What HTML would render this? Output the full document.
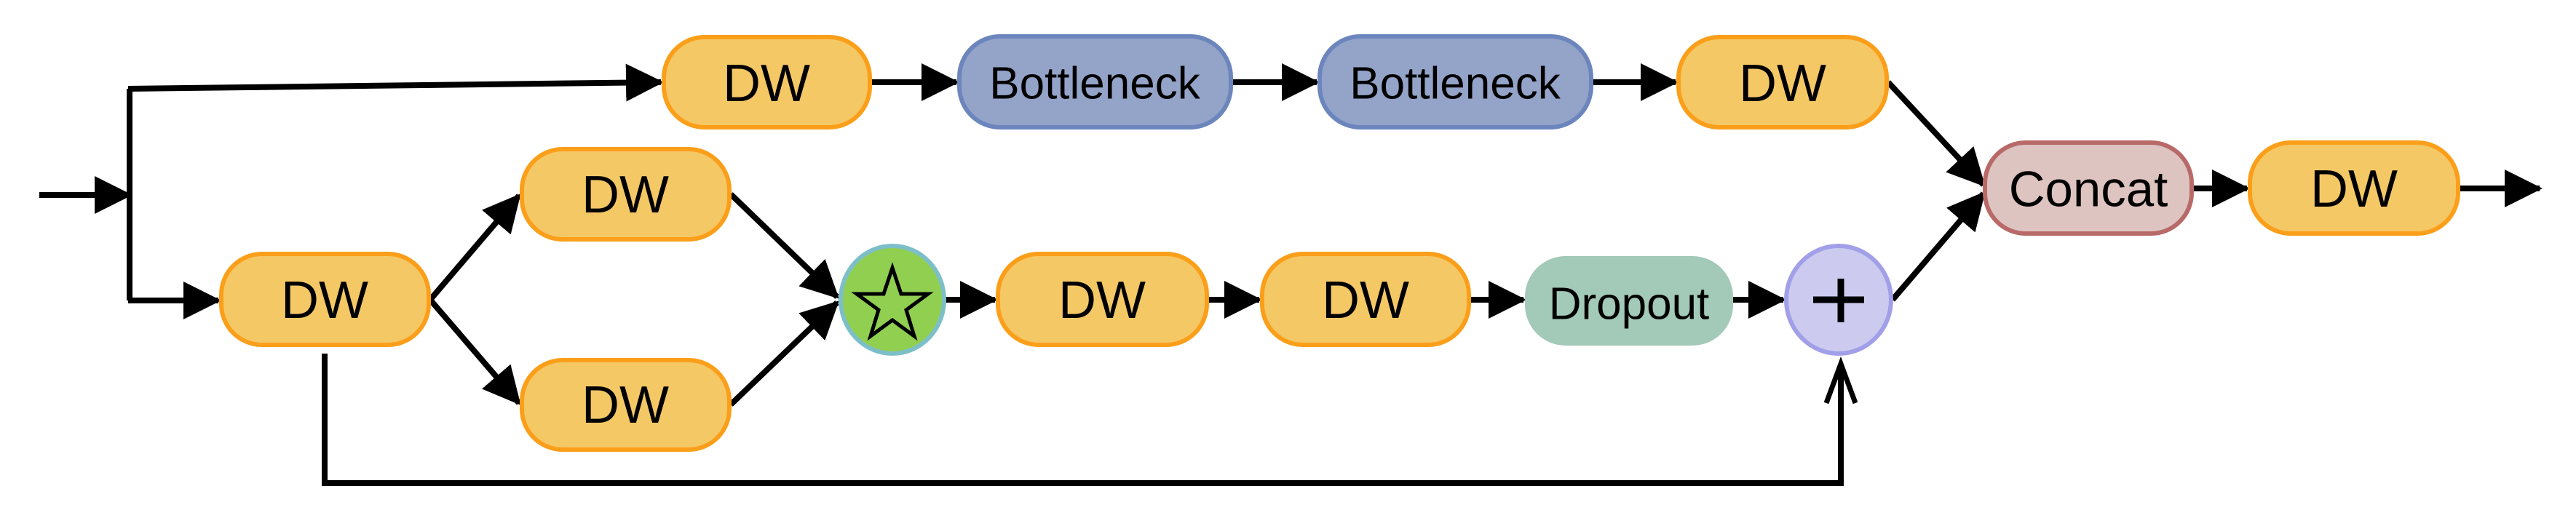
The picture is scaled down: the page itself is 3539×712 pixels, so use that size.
<!DOCTYPE html>
<html><head><meta charset="utf-8"><style>
html,body{margin:0;padding:0;background:#fff;}
svg{display:block;}
text{font-family:"Liberation Sans",Arial,sans-serif;fill:#000;text-anchor:middle;dominant-baseline:central;}
</style></head><body>
<svg width="3539" height="712" viewBox="0 0 3539 712" xmlns="http://www.w3.org/2000/svg">
<defs>
<marker id="ah" markerWidth="6.5" markerHeight="6.5" refX="6" refY="3.25" orient="auto" markerUnits="strokeWidth">
<path d="M0,0 L6.5,3.25 L0,6.5 Z" fill="#000"/>
</marker>
</defs>
<g stroke="#000" stroke-width="8" fill="none">
<line x1="54" y1="268" x2="178" y2="268" marker-end="url(#ah)"/>
<polyline points="178,122 178,413"/>
<line x1="176" y1="122" x2="908" y2="113" marker-end="url(#ah)"/>
<line x1="176" y1="413" x2="300" y2="413" marker-end="url(#ah)"/>
<line x1="591" y1="412" x2="713" y2="269" marker-end="url(#ah)"/>
<line x1="591" y1="412" x2="713" y2="554" marker-end="url(#ah)"/>
<line x1="1004" y1="267" x2="1150" y2="408" marker-end="url(#ah)"/>
<line x1="1004" y1="556" x2="1150" y2="416" marker-end="url(#ah)"/>
<line x1="1299" y1="412" x2="1367" y2="412" marker-end="url(#ah)"/>
<line x1="1660" y1="412" x2="1730" y2="412" marker-end="url(#ah)"/>
<line x1="2020" y1="412" x2="2093" y2="412" marker-end="url(#ah)"/>
<line x1="2381" y1="412" x2="2450" y2="412" marker-end="url(#ah)"/>
<line x1="1197" y1="113" x2="1314" y2="113" marker-end="url(#ah)"/>
<line x1="1693" y1="113" x2="1809" y2="113" marker-end="url(#ah)"/>
<line x1="2188" y1="113" x2="2302" y2="113" marker-end="url(#ah)"/>
<line x1="2594" y1="113" x2="2725" y2="254" marker-end="url(#ah)"/>
<line x1="2600" y1="412" x2="2725" y2="266" marker-end="url(#ah)"/>
<line x1="3013" y1="259" x2="3087" y2="259" marker-end="url(#ah)"/>
<line x1="3379" y1="259" x2="3489" y2="259" marker-end="url(#ah)"/>
<polyline points="446,486 446,664 2529,664 2529,502"/>
<polyline points="2509,554 2529,500 2549,554" stroke-width="7"/>
</g>
<g stroke-width="6">
<rect x="912" y="51" width="283" height="124" rx="56" fill="#f5c866" stroke="#fb9f1a"/>
<rect x="1318" y="50" width="373" height="125" rx="56" fill="#94a3c8" stroke="#6c86bd"/>
<rect x="1813" y="50" width="373" height="125" rx="56" fill="#94a3c8" stroke="#6c86bd"/>
<rect x="2306" y="51" width="286" height="124" rx="56" fill="#f5c866" stroke="#fb9f1a"/>
<rect x="2727" y="196" width="284" height="125" rx="56" fill="#dec4c0" stroke="#b86a68"/>
<rect x="3091" y="196" width="286" height="125" rx="56" fill="#f5c866" stroke="#fb9f1a"/>
<rect x="304" y="349" width="285" height="125" rx="56" fill="#f5c866" stroke="#fb9f1a"/>
<rect x="717" y="205" width="285" height="124" rx="56" fill="#f5c866" stroke="#fb9f1a"/>
<rect x="717" y="495" width="285" height="123" rx="56" fill="#f5c866" stroke="#fb9f1a"/>
<rect x="1371" y="349" width="287" height="125" rx="56" fill="#f5c866" stroke="#fb9f1a"/>
<rect x="1734" y="349" width="284" height="125" rx="56" fill="#f5c866" stroke="#fb9f1a"/>
<rect x="2095" y="352" width="286" height="123" rx="56" fill="#a3c9b8" stroke="none"/>
<ellipse cx="1226" cy="412" rx="71" ry="74" fill="#91cf50" stroke="#7dbfc8"/>
<ellipse cx="2526" cy="412" rx="72" ry="74" fill="#cccbef" stroke="#a19fe8"/>
</g>
<polygon points="1226,368 1238,404 1275,404 1245,426 1256,462 1226,440 1196,462 1207,426 1177,404 1214,404" fill="none" stroke="#000" stroke-width="5" stroke-linejoin="miter"/>
<g stroke="#000" stroke-width="9"><line x1="2491" y1="412" x2="2561" y2="412"/><line x1="2529" y1="383" x2="2529" y2="443"/></g>
<g font-size="72">
<text x="1053" y="115">DW</text>
<text x="2449" y="115">DW</text>
<text x="3234" y="260">DW</text>
<text x="446" y="413">DW</text>
<text x="859" y="268">DW</text>
<text x="859" y="557">DW</text>
<text x="1514" y="413">DW</text>
<text x="1876" y="413">DW</text>
</g>
<g font-size="62">
<text x="1504" y="115">Bottleneck</text>
<text x="1999" y="115">Bottleneck</text>
<text x="2238" y="418">Dropout</text>
</g>
<text x="2869" y="260" font-size="69">Concat</text>
</svg>
</body></html>
